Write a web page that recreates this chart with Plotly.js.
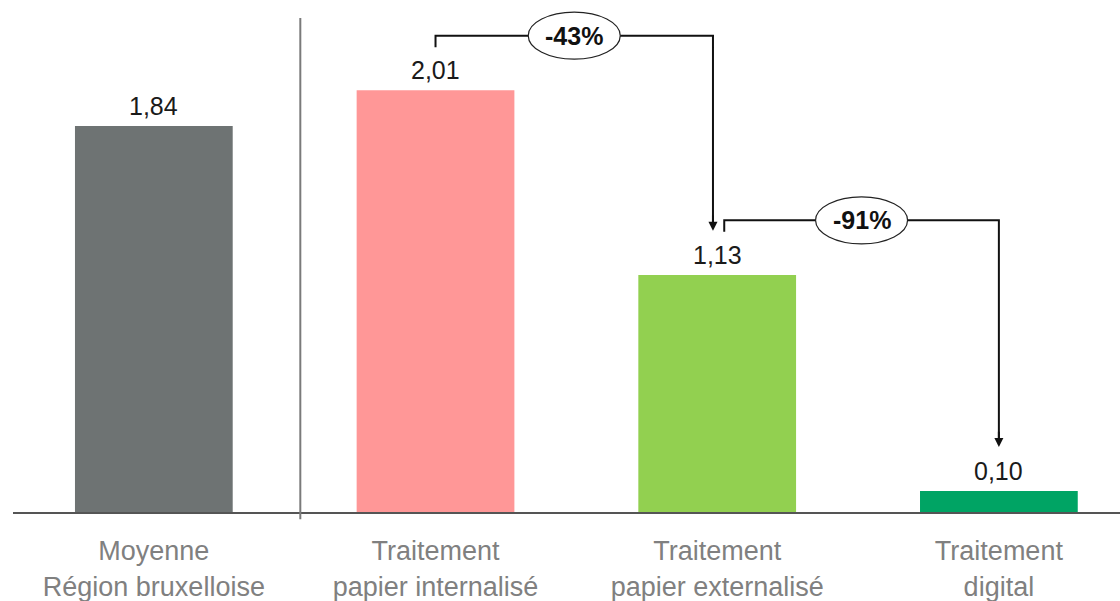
<!DOCTYPE html>
<html>
<head>
<meta charset="utf-8">
<script src="https://cdn.plot.ly/plotly-3.0.1.min.js"></script>
<style>html,body{margin:0;padding:0;background:#fff;}#chart{width:1120px;height:601px;}</style>
</head>
<body>
<div id="chart"></div>
<script>
// ---- data ----
const categories = ["Moyenne<br>Région bruxelloise", "Traitement<br>papier internalisé", "Traitement<br>papier externalisé", "Traitement<br>digital"];
const values = [1.84, 2.01, 1.13, 0.10];
const barColors = ["#6e7373", "#ff9797", "#92d050", "#00a464"];
const changeFrom = [1, 2];
const changeTo = [2, 3];
const changeLabels = ["-43%", "-91%"];

// ---- style ----
const FONT = "Liberation Sans, Arial, Helvetica, sans-serif";
const startDx = [0, 0.025];
const endDx = [-0.015, 0];
const tickOff = 0.205, levelOff = 0.26, tipOff = 0.21;

const xs = categories.map((c, i) => i);

const trace = {
  type: "bar",
  x: xs,
  y: values,
  marker: { color: barColors, line: { width: 0 } },
  hoverinfo: "skip"
};

const shapes = [];
const annotations = [];

// value labels above bars
xs.forEach((x, i) => {
  annotations.push({
    x: x, y: values[i], xref: "x", yref: "y",
    text: values[i].toFixed(2).replace(".", ","),
    showarrow: false, yanchor: "middle", yshift: 20,
    font: { family: FONT, size: 25, color: "#1a1a1a" }
  });
});

// separator line between the average and the scenarios
shapes.push({
  type: "line", xref: "x", yref: "paper",
  x0: 0.52, x1: 0.52, y0: -0.014, y1: 0.965,
  line: { color: "#7a7a7a", width: 2 }
});

changeFrom.forEach((a, k) => {
  const b = changeTo[k];
  const x0 = a + startDx[k];
  const x1 = b + endDx[k];
  const level = values[a] + levelOff;
  const tickBottom = values[a] + tickOff;
  const tip = values[b] + tipOff;
  shapes.push({
    type: "path", xref: "x", yref: "y",
    path: `M ${x0},${tickBottom} L ${x0},${level} L ${x1},${level} L ${x1},${tip + 0.03}`,
    line: { color: "#111", width: 2 }
  });
  annotations.push({
    x: x1, y: tip, xref: "x", yref: "y",
    ax: x1, ay: tip + 0.08, axref: "x", ayref: "y",
    text: "", showarrow: true, arrowhead: 2, arrowsize: 0.9, arrowwidth: 2, arrowcolor: "#111"
  });
  const mid = (x0 + x1) / 2;
  shapes.push({
    type: "circle", xref: "x", yref: "y",
    xsizemode: "pixel", ysizemode: "pixel",
    xanchor: mid, yanchor: level,
    x0: -46, x1: 46, y0: -23.5, y1: 23.5,
    fillcolor: "#ffffff", line: { color: "#222", width: 1.2 }
  });
  annotations.push({
    x: mid, y: level, xref: "x", yref: "y",
    text: "<b>" + changeLabels[k] + "</b>", showarrow: false,
    font: { family: FONT, size: 25, color: "#111" }
  });
});

const layout = {
  width: 1120, height: 601,
  margin: { l: 13, r: 0, t: 0, b: 89 },
  paper_bgcolor: "#ffffff", plot_bgcolor: "#ffffff",
  showlegend: false,
  bargap: 0.44,
  xaxis: {
    range: [-0.5, 3.43],
    tickmode: "array", tickvals: xs, ticktext: categories,
    showline: true, linecolor: "#555555", linewidth: 2,
    showgrid: false, zeroline: false, ticks: "",
    tickfont: { family: FONT, size: 27, color: "#808080" },
    ticklabelstandoff: 14,
    fixedrange: true
  },
  yaxis: {
    range: [0, 2.44],
    showline: false, showgrid: false, zeroline: false, showticklabels: false,
    fixedrange: true
  },
  shapes: shapes,
  annotations: annotations
};

Plotly.newPlot("chart", [trace], layout, { displayModeBar: false, staticPlot: true });
</script>
</body>
</html>
